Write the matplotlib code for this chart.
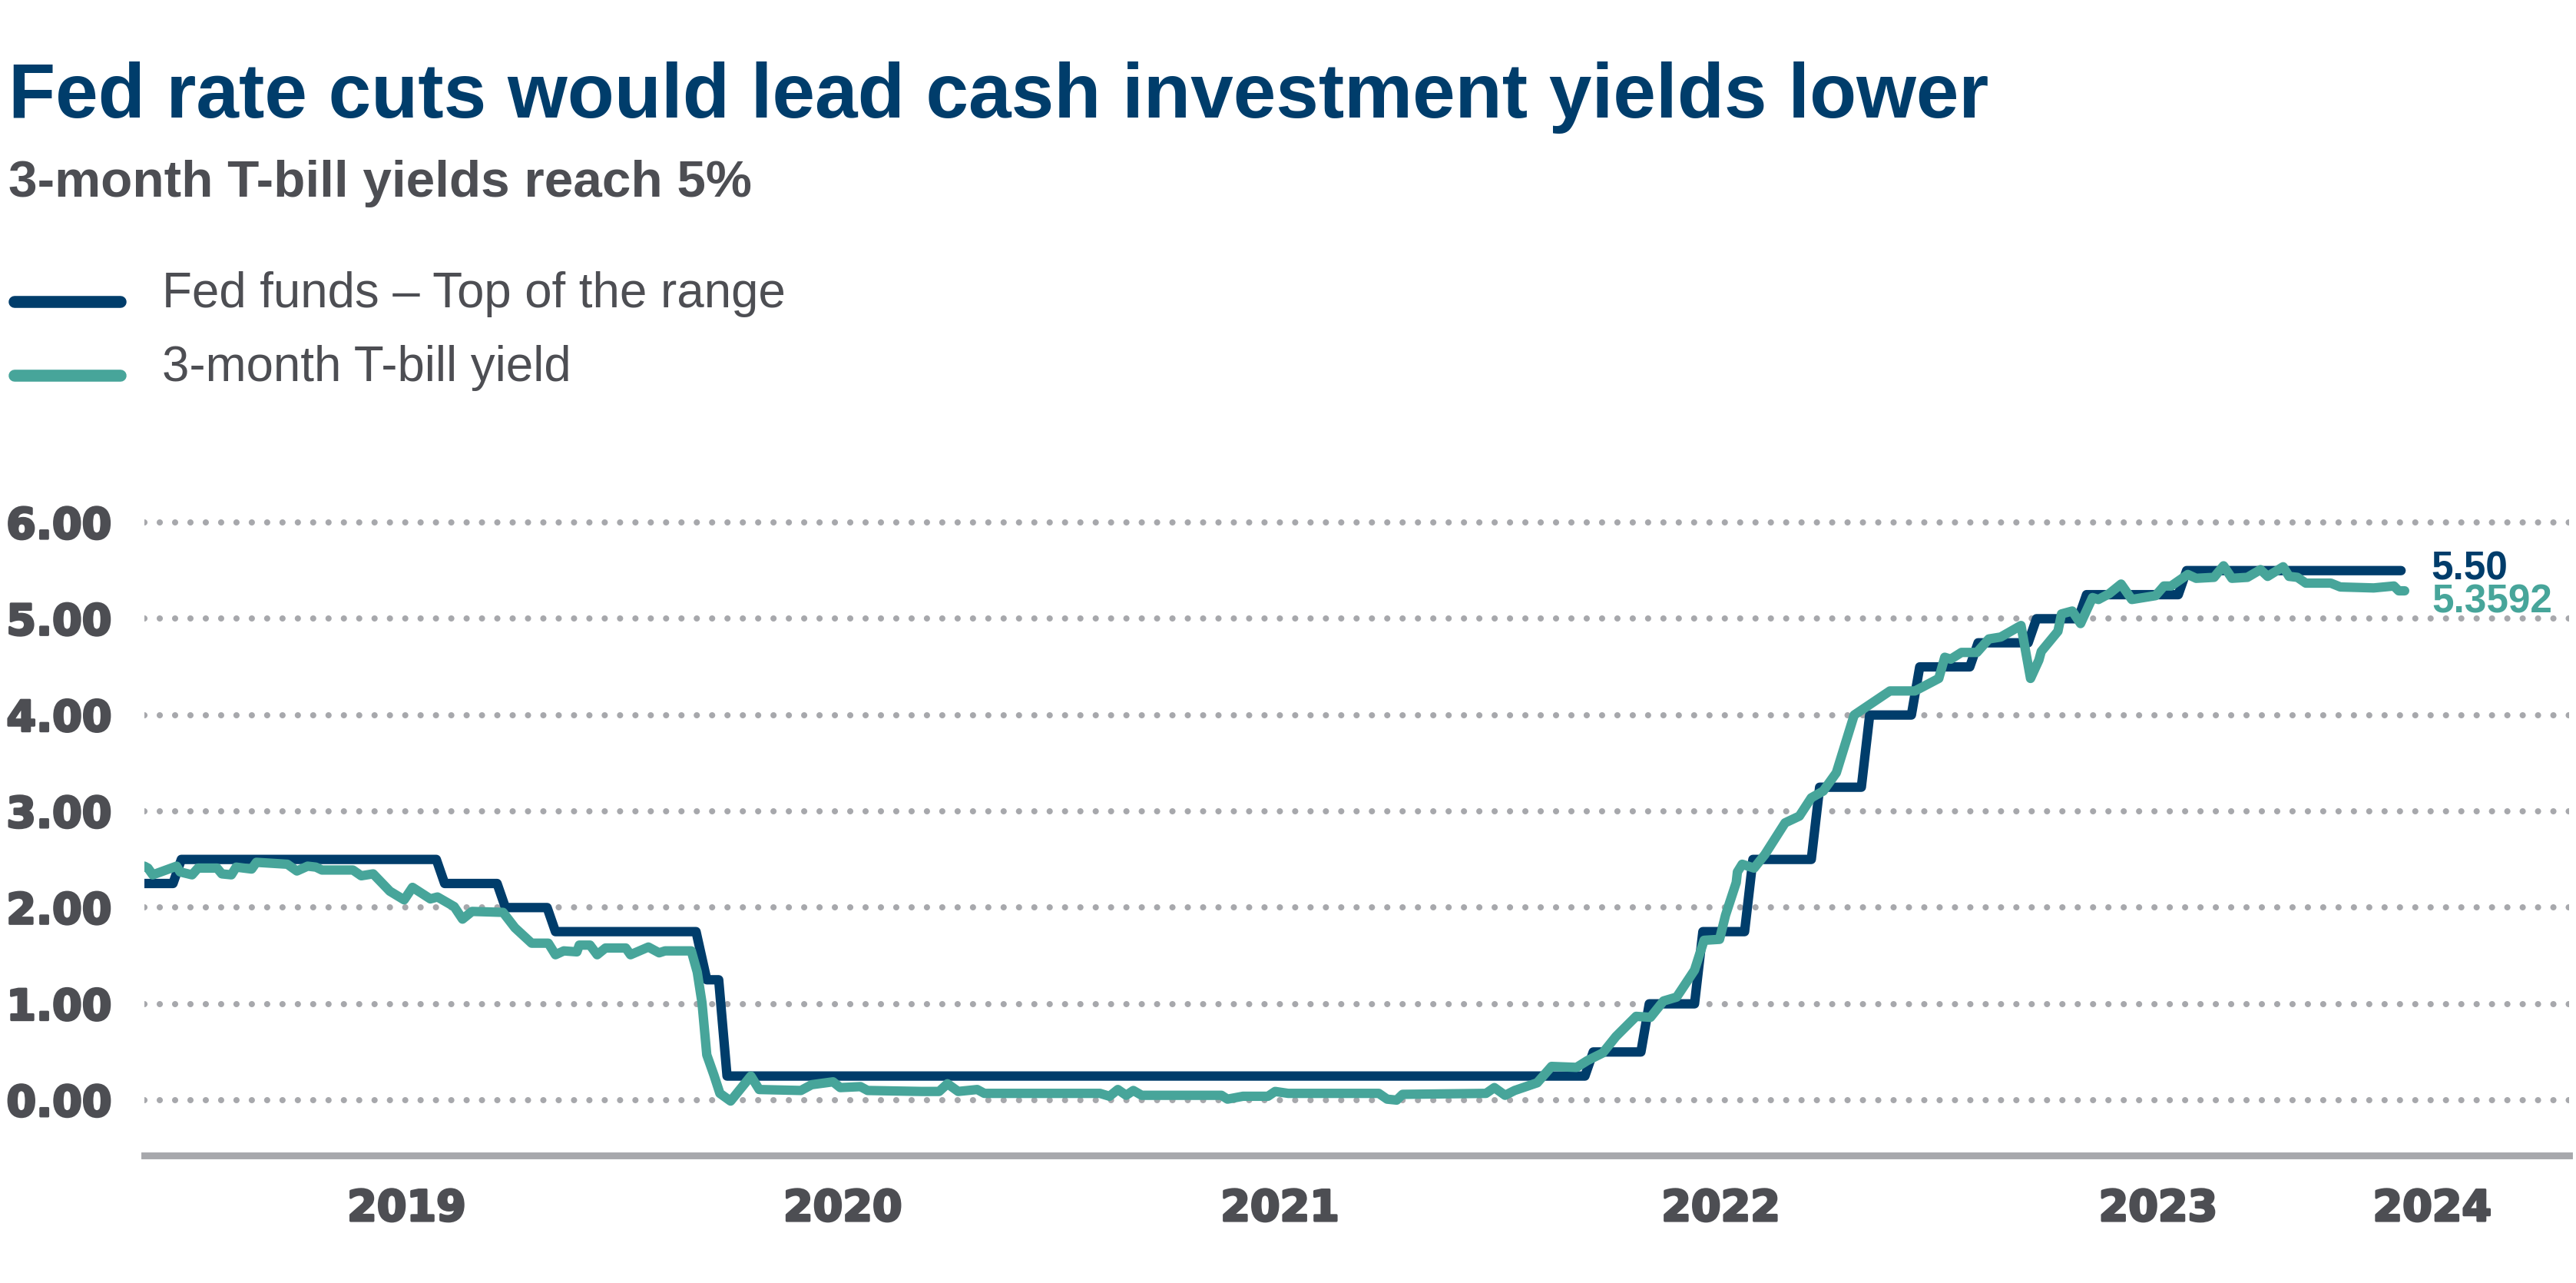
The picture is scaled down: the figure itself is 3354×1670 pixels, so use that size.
import matplotlib
matplotlib.use("Agg")
import matplotlib.pyplot as plt
import matplotlib.patheffects as pe
from matplotlib.lines import Line2D
import pandas as pd

# values
fed_dates = ['2018-11-23', '2018-12-17', '2018-12-24', '2019-07-26', '2019-08-02',
             '2019-09-15', '2019-09-22', '2019-10-27', '2019-11-03', '2020-02-29',
             '2020-03-09', '2020-03-19', '2020-03-26', '2022-03-16', '2022-03-23',
             '2022-05-02', '2022-05-09', '2022-06-16', '2022-06-23', '2022-07-28',
             '2022-08-04', '2022-09-22', '2022-09-29', '2022-11-03', '2022-11-10',
             '2022-12-15', '2022-12-22', '2023-02-02', '2023-02-09', '2023-03-23',
             '2023-03-30', '2023-05-04', '2023-05-11', '2023-07-27', '2023-08-03',
             '2024-01-30']
fed_rate = [2.25, 2.25, 2.50, 2.50, 2.25,
            2.25, 2.00, 2.00, 1.75, 1.75,
            1.25, 1.25, 0.25, 0.25, 0.50,
            0.50, 1.00, 1.00, 1.75, 1.75,
            2.50, 2.50, 3.25, 3.25, 4.00,
            4.00, 4.50, 4.50, 4.75, 4.75,
            5.00, 5.00, 5.25, 5.25, 5.50,
            5.50]

tbill_dates = ['2018-11-23', '2018-11-26', '2018-11-30', '2018-12-20', '2018-12-23',
               '2019-01-02', '2019-01-07', '2019-01-23', '2019-01-27', '2019-02-04',
               '2019-02-08', '2019-02-21', '2019-02-25', '2019-03-23', '2019-03-31',
               '2019-04-09', '2019-04-16', '2019-04-21', '2019-05-17', '2019-05-24',
               '2019-06-03', '2019-06-17', '2019-06-29', '2019-07-06', '2019-07-21',
               '2019-07-27', '2019-08-10', '2019-08-17', '2019-08-25', '2019-09-20',
               '2019-09-30', '2019-10-14', '2019-10-28', '2019-11-03', '2019-11-10',
               '2019-11-21', '2019-11-23', '2019-12-02', '2019-12-08', '2019-12-15',
               '2020-01-01', '2020-01-05', '2020-01-20', '2020-01-29', '2020-02-03',
               '2020-02-25', '2020-03-01', '2020-03-05', '2020-03-09', '2020-03-15',
               '2020-03-20', '2020-03-29', '2020-04-15', '2020-04-22', '2020-05-27',
               '2020-06-05', '2020-06-23', '2020-06-29', '2020-07-16', '2020-07-22',
               '2020-09-05', '2020-09-20', '2020-09-27', '2020-10-06', '2020-10-22',
               '2020-10-28', '2021-02-02', '2021-02-10', '2021-02-17', '2021-02-24',
               '2021-03-02', '2021-03-09', '2021-05-15', '2021-05-20', '2021-06-02',
               '2021-06-23', '2021-06-29', '2021-07-10', '2021-09-24', '2021-10-01',
               '2021-10-09', '2021-10-14', '2021-12-23', '2021-12-30', '2022-01-08',
               '2022-01-16', '2022-02-04', '2022-02-16', '2022-03-09', '2022-03-18',
               '2022-03-31', '2022-04-11', '2022-04-28', '2022-05-10', '2022-05-21',
               '2022-06-01', '2022-06-16', '2022-06-24', '2022-07-07', '2022-07-12',
               '2022-07-21', '2022-07-22', '2022-07-26', '2022-08-05', '2022-08-14',
               '2022-08-31', '2022-09-12', '2022-09-22', '2022-10-02', '2022-10-13',
               '2022-10-28', '2022-11-27', '2022-12-18', '2023-01-07', '2023-01-12',
               '2023-01-17', '2023-01-26', '2023-02-08', '2023-02-18', '2023-02-28',
               '2023-03-17', '2023-03-25', '2023-04-01', '2023-04-03', '2023-04-17',
               '2023-04-20', '2023-04-29', '2023-05-06', '2023-05-16', '2023-05-21',
               '2023-05-30', '2023-06-09', '2023-06-18', '2023-07-08', '2023-07-15',
               '2023-07-21', '2023-08-04', '2023-08-11', '2023-08-26', '2023-09-03',
               '2023-09-10', '2023-09-23', '2023-10-04', '2023-10-10', '2023-10-23',
               '2023-10-28', '2023-11-04', '2023-11-11', '2023-12-02', '2023-12-10',
               '2024-01-07', '2024-01-24', '2024-01-28', '2024-02-02']
tbill_yield = [2.43, 2.41, 2.34, 2.43, 2.37,
               2.34, 2.41, 2.41, 2.35, 2.34,
               2.42, 2.40, 2.47, 2.45, 2.38,
               2.43, 2.42, 2.39, 2.39, 2.33,
               2.35, 2.17, 2.08, 2.21, 2.09,
               2.11, 2.01, 1.88, 1.96, 1.95,
               1.79, 1.63, 1.63, 1.51, 1.55,
               1.54, 1.61, 1.61, 1.51, 1.58,
               1.58, 1.51, 1.59, 1.53, 1.55,
               1.55, 1.33, 1.01, 0.47, 0.26,
               0.07, -0.01, 0.25, 0.11, 0.10,
               0.16, 0.19, 0.13, 0.14, 0.10,
               0.09, 0.09, 0.17, 0.09, 0.11,
               0.07, 0.07, 0.04, 0.11, 0.05,
               0.10, 0.05, 0.05, 0.01, 0.04,
               0.04, 0.09, 0.07, 0.07, 0.01,
               0.00, 0.06, 0.07, 0.13, 0.05,
               0.10, 0.18, 0.35, 0.34, 0.41,
               0.49, 0.66, 0.87, 0.86, 1.03,
               1.07, 1.35, 1.66, 1.67, 1.92,
               2.26, 2.37, 2.45, 2.41, 2.55,
               2.88, 2.95, 3.14, 3.21, 3.40,
               4.00, 4.25, 4.25, 4.38, 4.60,
               4.58, 4.65, 4.65, 4.79, 4.81,
               4.93, 4.38, 4.57, 4.66, 4.87,
               5.05, 5.08, 4.95, 5.22, 5.20,
               5.26, 5.36, 5.20, 5.24, 5.34,
               5.34, 5.46, 5.42, 5.43, 5.55,
               5.42, 5.43, 5.51, 5.44, 5.54,
               5.44, 5.43, 5.37, 5.37, 5.33,
               5.32, 5.34, 5.29, 5.29]
tbill_latest = 5.3592

y_ticks = [0, 1, 2, 3, 4, 5, 6]
year_labels = ['2019', '2020', '2021', '2022', '2023', '2024']
year_label_dates = ['2019-07-01', '2020-07-01', '2021-07-03', '2022-07-08', '2023-07-10', '2024-02-25']

title = 'Fed rate cuts would lead cash investment yields lower'
subtitle = '3-month T-bill yields reach 5%'
fed_name = 'Fed funds \u2013 Top of the range'
tbill_name = '3-month T-bill yield'

NAVY = '#003D6B'
TEAL = '#47A59A'
GRAY = '#A7A8AC'
TEXT = '#4D4E53'

W, H = 3354, 1670
fig = plt.figure(figsize=(W / 200, H / 200), dpi=200)
ax = fig.add_axes([188 / W, 1 - 1504 / H, (3345 - 188) / W, (1504 - 655) / H])

# dotted gridlines
for v in y_ticks:
    ax.axhline(v, color=GRAY, lw=2.9, ls=(0, (0.01, 2.47)), dash_capstyle='round', zorder=1)

fd = pd.to_datetime(fed_dates)
td = pd.to_datetime(tbill_dates)
ax.plot(fd, fed_rate, color=NAVY, lw=4.4, solid_capstyle='round', solid_joinstyle='round', zorder=3)
ax.plot(td, tbill_yield, color=TEAL, lw=4.4, solid_capstyle='round', solid_joinstyle='round', zorder=4)

ax.set_xlim(pd.Timestamp('2018-11-23'), pd.Timestamp('2024-06-19'))
ax.set_ylim(-0.575, 6.2)

for s in ['top', 'right', 'left']:
    ax.spines[s].set_visible(False)
ax.spines['bottom'].set_color(GRAY)
ax.spines['bottom'].set_linewidth(3.2)

ax.set_yticks(y_ticks, labels=['%.2f' % v for v in y_ticks])
ax.set_xticks(pd.to_datetime(year_label_dates), labels=year_labels)
ax.tick_params(axis='both', length=0, labelsize=20, labelcolor=TEXT)
ax.tick_params(axis='y', pad=15.5)
ax.tick_params(axis='x', pad=15.5)
heavy = [pe.withStroke(linewidth=1.1, foreground=TEXT)]
for lab in ax.get_yticklabels() + ax.get_xticklabels():
    lab.set_fontfamily('DejaVu Sans')
    lab.set_fontweight('bold')
    lab.set_path_effects(heavy)

# end-of-line value labels
ax.annotate('%.2f' % fed_rate[-1], xy=(fd[-1], fed_rate[-1]), xytext=(14, -4.4),
            textcoords='offset points', va='baseline', ha='left', color=NAVY,
            fontsize=18.5, fontweight='bold', family='Liberation Sans')
ax.annotate('%.4f' % tbill_latest, xy=(td[-1], tbill_yield[-1]), xytext=(12.6, -10.4),
            textcoords='offset points', va='baseline', ha='left', color=TEAL,
            fontsize=18.5, fontweight='bold', family='Liberation Sans')

# title block
fig.text(11 / W, 1 - 153 / H, title, fontsize=36, fontweight='bold', color=NAVY,
         family='Liberation Sans', va='baseline', ha='left')
fig.text(11 / W, 1 - 256 / H, subtitle, fontsize=24.3, fontweight='bold', color=TEXT,
         family='Liberation Sans', va='baseline', ha='left')

# legend
for y_line, y_txt, col, name in [(393, 400, NAVY, fed_name), (489, 496, TEAL, tbill_name)]:
    fig.add_artist(Line2D([19 / W, 157 / W], [1 - y_line / H] * 2, lw=5.6, color=col,
                          solid_capstyle='round', transform=fig.transFigure))
    fig.text(211 / W, 1 - y_txt / H, name, fontsize=22.9, color=TEXT,
             family='Liberation Sans', va='baseline', ha='left')

fig.savefig('out.png', dpi=200)
